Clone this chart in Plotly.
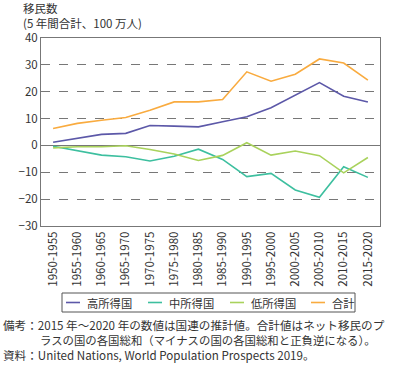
import plotly.graph_objects as go

periods = ["1950-1955","1955-1960","1960-1965","1965-1970","1970-1975","1975-1980",
           "1980-1985","1985-1990","1990-1995","1995-2000","2000-2005","2005-2010",
           "2010-2015","2015-2020"]
high = [1.2, 2.6, 4.1, 4.5, 7.4, 7.2, 6.9, 8.8, 10.7, 14.0, 18.7, 23.4, 18.3, 16.2]
middle = [-0.3, -2.0, -3.6, -4.2, -5.8, -4.0, -1.4, -5.2, -11.6, -10.4, -16.6, -19.3, -7.9, -11.9]
low = [-0.9, -0.5, -0.5, -0.1, -1.5, -3.2, -5.6, -3.7, 1.0, -3.6, -2.1, -3.8, -10.2, -4.5]
total = [6.3, 8.2, 9.4, 10.4, 13.1, 16.2, 16.2, 17.1, 27.4, 23.9, 26.5, 32.2, 30.7, 24.3]

names = ["高所得国", "中所得国", "低所得国", "合計"]
colors = ["#5c58a8", "#3dbf9f", "#a9d25c", "#f9ab3f"]
series = [high, middle, low, total]

FONT = "Noto Sans CJK JP, Noto Sans, sans-serif"
TXT = "#333333"
fig = go.Figure()
for n, c, s in zip(names, colors, series):
    fig.add_trace(go.Scatter(x=periods, y=s, name=n, mode="lines",
                             line=dict(color=c, width=1.6), showlegend=False))

L, R, T, B = 41, 20, 38, 139
W, H = 400, 365
pw, ph = W - L - R, H - T - B

def px(x):
    return (x - L) / pw

def py(y):
    return (H - B - y) / ph

fig.update_layout(
    width=W, height=H,
    margin=dict(l=L, r=R, t=T, b=B, autoexpand=False),
    paper_bgcolor="white", plot_bgcolor="white",
    font=dict(family=FONT, size=11, color=TXT),
    showlegend=False,
    xaxis=dict(type="category", range=[-0.5, 13.5], tickangle=-90,
               showgrid=False, showline=True, linecolor="#777777", mirror=True,
               ticks="", tickfont=dict(size=11.5), fixedrange=True),
    yaxis=dict(range=[-30, 40], dtick=10, showgrid=True, gridcolor="#777777",
               griddash="dash", gridwidth=1, showline=True, linecolor="#777777",
               mirror=True, zeroline=True, zerolinecolor="#777777", zerolinewidth=1.2,
               ticks="", tickfont=dict(size=11.5), fixedrange=True),
)

# legend box drawn as layout decoration (pixel layout converted to paper coords)
fig.add_shape(type="rect", xref="paper", yref="paper",
              x0=px(62), x1=px(355), y0=py(312), y1=py(293),
              line=dict(color="#555555", width=1), fillcolor="white")
leg_x = [66, 148, 230, 311]
for n, c, lx in zip(names, colors, leg_x):
    fig.add_shape(type="line", xref="paper", yref="paper",
                  x0=px(lx), x1=px(lx + 14), y0=py(302.5), y1=py(302.5),
                  line=dict(color=c, width=1.6))
    fig.add_annotation(text=n, xref="paper", yref="paper", x=px(lx + 19), y=py(302.5),
                       xanchor="left", yanchor="middle", showarrow=False,
                       font=dict(size=11.3, color=TXT, family=FONT))

annots = [
    ("移民数", 21, 8, 11.5),
    ("(5 年間合計、100 万人)", 21, 22.5, 11.5),
    ("備考：2015 年～2020 年の数値は国連の推計値。合計値はネット移民のプ", 1, 325, 11.6),
    ("ラスの国の各国総和（マイナスの国の各国総和と正負逆になる）。", 38, 340, 11.4),
    ("資料：United Nations, World Population Prospects 2019。", 1, 355, 11.6),
]
for text, x, y, fs in annots:
    fig.add_annotation(text=text, xref="paper", yref="paper", x=px(x),
                       y=py(y), xanchor="left", yanchor="middle", showarrow=False,
                       font=dict(size=fs, color=TXT, family=FONT))

fig.write_html("out.html", config={"displayModeBar": False},
               post_script="document.body.style.margin='0';")
